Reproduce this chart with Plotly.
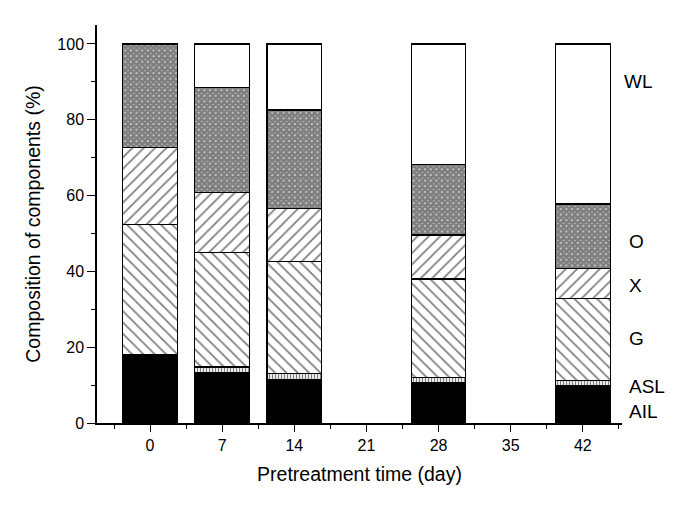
import plotly.graph_objects as go

days = [0, 7, 14, 28, 42]
components = ["AIL", "ASL", "G", "X", "O", "WL"]

ail = [18.1, 13.3, 11.5, 10.6, 10.0]
asl = [0.0, 1.5, 1.6, 1.4, 1.3]
g = [34.3, 30.2, 29.6, 26.0, 21.6]
xyl = [20.2, 15.8, 13.9, 11.6, 7.9]
o = [27.4, 27.7, 26.0, 18.5, 17.0]
wl = [0.0, 11.5, 17.4, 31.9, 42.2]

values = {"AIL": ail, "ASL": asl, "G": g, "X": xyl, "O": o, "WL": wl}

# look of each layer
styles = {
    "AIL": dict(color="black"),
    "ASL": dict(color="white", pattern=dict(shape="|", size=3, solidity=0.45, fgcolor="black", bgcolor="white")),
    "G": dict(color="white", pattern=dict(shape="\\", size=8, solidity=0.22, fgcolor="black", bgcolor="white")),
    "X": dict(color="white", pattern=dict(shape="/", size=8, solidity=0.22, fgcolor="black", bgcolor="white")),
    "O": dict(color="white", pattern=dict(shape="x", size=4, solidity=0.9, fgcolor="black", bgcolor="white")),
    "WL": dict(color="white"),
}

# where the right-hand labels sit (y in data units, x in paper)
label_y = {"WL": 90, "O": 47.8, "X": 36.4, "G": 22.4, "ASL": 9.6, "AIL": 3.0}
label_x = {"WL": 1.0, "O": 1.009, "X": 1.009, "G": 1.009, "ASL": 1.009, "AIL": 1.009}

fig = go.Figure()
for c in components:
    m = styles[c]
    m["line"] = dict(color="black", width=1.2)
    fig.add_trace(go.Bar(x=days, y=values[c], name=c, width=5.3, marker=m, showlegend=False))

for c in components:
    fig.add_annotation(x=label_x[c], y=label_y[c], xref="paper", yref="y", text=c,
                       showarrow=False, xanchor="left", yanchor="middle",
                       font=dict(size=19, color="black"))

fig.update_xaxes(range=[-5.15, 45.8], tickmode="array", tickvals=[0, 7, 14, 21, 28, 35, 42],
                 ticks="outside", ticklen=7, tickwidth=1.3, tickcolor="black",
                 minor=dict(tickvals=[-3.5, 3.5, 10.5, 17.5, 24.5, 31.5, 38.5, 45.5],
                            ticks="outside", ticklen=4, tickwidth=1.2, tickcolor="black"),
                 showline=True, linecolor="black", linewidth=1.5, showgrid=False, zeroline=False,
                 automargin=False,
                 title=dict(text="Pretreatment time (day)", font=dict(size=19.5), standoff=14),
                 tickfont=dict(size=16))
fig.update_yaxes(range=[0, 105], tickvals=[0, 20, 40, 60, 80, 100],
                 ticks="outside", ticklen=8, tickwidth=1.3, tickcolor="black",
                 minor=dict(tickvals=[10, 30, 50, 70, 90], ticks="outside", ticklen=4,
                            tickwidth=1.2, tickcolor="black"),
                 showline=True, linecolor="black", linewidth=1.5, showgrid=False, zeroline=False,
                 automargin=False,
                 title=dict(text="Composition of components (%)", font=dict(size=19.5), standoff=12),
                 tickfont=dict(size=16))

# page body has an 8px margin, so the figure is a bit smaller than the window
fig.update_layout(barmode="stack", width=677, height=498,
                  margin=dict(l=89, r=63, t=17, b=83),
                  paper_bgcolor="white", plot_bgcolor="white",
                  font=dict(family="Liberation Sans, Arial", color="black"))

fig.write_html("out.html")
